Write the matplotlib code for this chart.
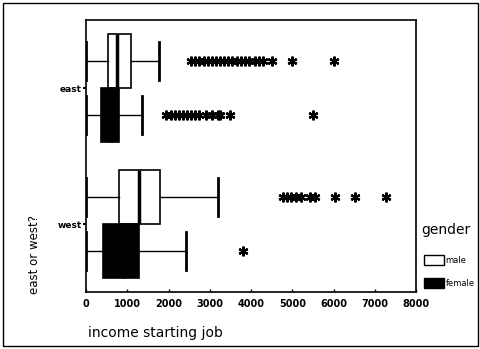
import matplotlib
matplotlib.use("Agg")
import matplotlib.pyplot as plt
from matplotlib.patches import Patch, Rectangle

# income summaries per region and gender (q1, median, q3, whiskers, outliers)
regions = ["east", "west"]
genders = ["male", "female"]
q1 = {"east": [540, 364], "west": [800, 410]}
med = {"east": [750, 600], "west": [1285, 900]}
q3 = {"east": [1090, 800], "west": [1790, 1285]}
whislo = {"east": [0, 0], "west": [0, 0]}
whishi = {"east": [1770, 1360], "west": [3200, 2420]}
east_male_out = [2550, 2650, 2750, 2850, 2950, 3050, 3150, 3250, 3350, 3450,
                 3550, 3650, 3750, 3850, 3950, 4100, 4200, 4300, 4500, 5000, 6000]
east_female_out = [1950, 2050, 2150, 2250, 2350, 2450, 2550, 2650, 2750, 2900,
                   3050, 3200, 3250, 3500, 5500]
west_male_out = [4780, 4880, 4980, 5080, 5200, 5430, 5550, 6030, 6520, 7270]
west_female_out = [3800]
fliers = {"east": [east_male_out, east_female_out],
          "west": [west_male_out, west_female_out]}
fills = {"male": "white", "female": "black"}

fig = plt.figure(figsize=(4.81, 3.49), dpi=100)
ax = fig.add_axes([86/481, 57/349, 330/481, 272/349])

for i, reg in enumerate(regions):
    for j, g in enumerate(genders):
        pos = i + 1 + (-0.2 if j == 0 else 0.2)
        st = [dict(q1=q1[reg][j], med=med[reg][j], q3=q3[reg][j],
                   whislo=whislo[reg][j], whishi=whishi[reg][j],
                   fliers=fliers[reg][j])]
        ax.bxp(st, positions=[pos], widths=0.4, capwidths=0.28,
               orientation="horizontal", patch_artist=True,
               boxprops=dict(facecolor=fills[g], edgecolor="black", linewidth=1.2),
               medianprops=dict(color="black", linewidth=2.5),
               whiskerprops=dict(color="black", linewidth=1),
               capprops=dict(color="black", linewidth=2),
               flierprops=dict(marker=(6, 2, 0), markersize=7,
                               markeredgewidth=1.6, markeredgecolor="black",
                               linestyle="none"))

ax.set_xlim(0, 8000)
ax.set_ylim(2.5, 0.5)
ax.set_xticks(range(0, 8001, 1000))
ax.set_xticklabels([str(v) for v in range(0, 8001, 1000)],
                   fontsize=7, fontweight="bold")
ax.set_yticks([1, 2])
ax.set_yticklabels(regions, fontsize=6.5, fontweight="bold")
ax.tick_params(axis="x", direction="in", length=2.5, width=1, pad=5)
ax.tick_params(axis="y", direction="out", length=2, width=1.5, pad=1)
for sp in ax.spines.values():
    sp.set_linewidth(1.2)

fig.text(88/481, 1 - 333/349, "income starting job", fontsize=10,
         ha="left", va="center")
fig.text(35/481, 1 - 255/349, "east or west?", fontsize=8.5,
         rotation=90, ha="center", va="center")

# legend: title as plain text, entries below it
fig.text(421/481, 1 - 230/349, "gender", fontsize=10, ha="left", va="center")
handles = [Patch(facecolor=fills[g], edgecolor="black", linewidth=1) for g in genders]
fig.legend(handles, genders, loc="upper left",
           bbox_to_anchor=(424/481, 1 - 255/349), frameon=False,
           fontsize=6, handlelength=2.4, handleheight=1.4, labelspacing=1.6,
           handletextpad=0.2, borderaxespad=0, borderpad=0)

fig.patches.append(Rectangle((3/481, 3/349), 475/481, 343/349, fill=False,
                             edgecolor="black", linewidth=1,
                             transform=fig.transFigure, figure=fig))

fig.savefig("out.png", dpi=100)
